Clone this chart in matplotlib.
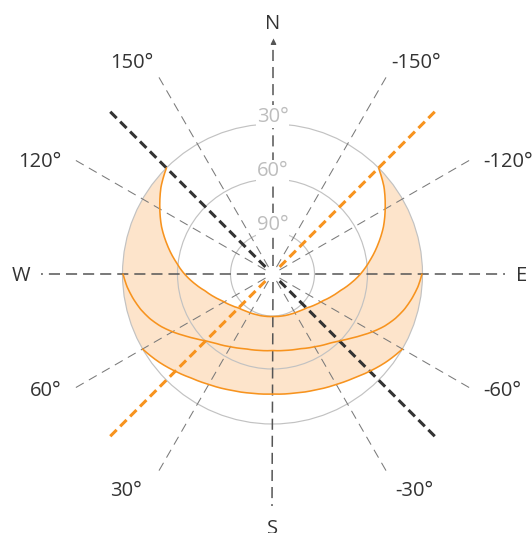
import numpy as np
import matplotlib
matplotlib.use('Agg')
import matplotlib.pyplot as plt
from matplotlib import transforms
from matplotlib.path import Path
from matplotlib.patches import PathPatch

plt.rcParams['font.family'] = ['Open Sans', 'DejaVu Sans']
plt.rcParams['lines.scale_dashes'] = False

# ---------------- data (azimuth: S=0, W=+90, N=180, E=-90; radius in chart units) -------------
summer_az = [135, 128, 121, 113, 106, 98, 90, 83, 76, 69, 62, 54, 45, 35, 24, 12, 0,
             -12, -24, -35, -45, -54, -62, -69, -76, -83, -90, -98, -106, -113, -121, -128, -135]
summer_r = [150, 141.5, 131.5, 120.5, 110, 98.5, 88, 78.5, 69.5, 63, 57, 52.5, 48, 45.5, 44, 43, 42.5,
            43, 44, 45.5, 48, 52.5, 57, 63, 69.5, 78.5, 88, 98.5, 110, 120.5, 131.5, 141.5, 150]

equinox_az = [90, 85, 80, 75, 70, 65, 60, 55, 50, 45, 40, 30, 20, 10, 0,
              -10, -20, -30, -40, -45, -50, -55, -60, -65, -70, -75, -80, -85, -90]
equinox_r = [149.5, 146, 141.5, 136.5, 130.5, 123.5, 115.5, 107.5, 100.5, 94.5, 90, 84, 79.5, 77.5, 76.5,
             77.5, 79.5, 84, 90, 94.5, 100.5, 107.5, 115.5, 123.5, 130.5, 136.5, 141.5, 146, 149.5]

winter_az = [60, 52, 45, 38, 30, 20, 10, 0, -10, -20, -30, -38, -45, -52, -60]
winter_r = [150, 143.5, 137.5, 132, 127.5, 123.5, 121, 120, 121, 123.5, 127.5, 132, 137.5, 143.5, 150]

horizon_r = 150                      # outer ring bounding the shaded band
ring_radius = [150, 95, 42]
ring_labels = ['30°', '60°', '90°']

grid_az = [150, 120, 60, 30, -30, -60, -120, -150]
grid_labels = ['150°', '120°', '60°', '30°', '-30°', '-60°', '-120°', '-150°']

compass_labels = ['N', 'S', 'W', 'E']
compass_az = [180, 0, 90, -90]

summer_line_az = [135, -45]    # dark dashed
winter_line_az = [-135, 45]    # orange dashed

# ---------------- style -------------
ORANGE = '#F7931E'
FILL = '#FDE4CB'
DARK = '#333333'
GRID = '#7a7a7a'
AXIS = '#555555'
RING = '#c2c2c2'
TXT = '#333333'
FS = 14.5
CAP = 14.5  # cap height in px
STEPS = 24

fig = plt.figure(figsize=(5.32, 5.33), dpi=100)
ax = fig.add_axes([13.5 / 532, 0, 518 / 532, 518 / 533], projection='polar')
ax.set_theta_zero_location('S')
ax.set_theta_direction(-1)
ax.set_rlim(0, 259)
ax.set_axis_off()

rad = np.deg2rad


def polar_path(theta_deg, r):
    return Path(np.column_stack([rad(np.asarray(theta_deg, float)), np.asarray(r, float)]),
                _interpolation_steps=STEPS)


# shaded band: summer path, ring arc, winter path (reversed), ring arc
band_t = list(summer_az) + list(winter_az[::-1]) + [135]
band_r = list(summer_r) + list(winter_r[::-1]) + [horizon_r]
ax.add_patch(PathPatch(polar_path(band_t, band_r), fc=FILL, ec='none', lw=0, zorder=1))

# rings
for rr in ring_radius:
    ax.add_patch(PathPatch(polar_path([-180, 0, 180], [rr, rr, rr]), fill=False,
                           ec=RING, lw=0.85, zorder=2))

# thin dashed grid spokes
for a in grid_az:
    ax.plot([rad(a), rad(a)], [8, 232], color=GRID, lw=0.75, ls=(0, (6.5, 4.3)), zorder=2)

# compass axes
for a in compass_az:
    ax.plot([rad(a), rad(a)], [8, 232], color=AXIS, lw=1.1, ls=(0, (8, 4.3)), zorder=2.5)
ax.plot([rad(180)], [233], marker='^', ms=5, color=AXIS, mec='none', zorder=3)

# solstice direction lines
for a in summer_line_az:
    ax.plot([rad(a), rad(a)], [10, 232], color=DARK, lw=2.2, ls=(0, (6.5, 3.6)), zorder=3)
for a in winter_line_az:
    ax.plot([rad(a), rad(a)], [10, 232], color=ORANGE, lw=2.2, ls=(0, (6.5, 3.6)), zorder=3)

# sun paths
for az, rr in [(summer_az, summer_r), (equinox_az, equinox_r), (winter_az, winter_r)]:
    ax.add_patch(PathPatch(polar_path(az, rr), fill=False, ec=ORANGE, lw=1.15,
                           capstyle='round', joinstyle='round', zorder=4))


def off(dy):
    return transforms.offset_copy(ax.transData, fig=fig, x=0, y=dy, units='dots')


# ring labels
for rr, lab in zip(ring_radius, ring_labels):
    ax.text(rad(180), rr + 2.5, lab, ha='center', va='baseline', fontsize=FS,
            color='#bdbdbd', zorder=5,
            bbox=dict(boxstyle='square,pad=0.05', fc='white', ec='none'))

# angle labels (anchor angle / radius tuned to the reference layout)
lab_theta = [150, 118.5, 61.5, 32.2, -30.6, -61.5, -118.5, -150]
lab_r = [238, 240, 240, 245, 241, 240, 240, 238]
for a, th, rr, lab in zip(grid_az, lab_theta, lab_r, grid_labels):
    ha = 'right' if a > 0 else 'left'
    if abs(a) > 135:
        dy = 0
    elif 45 < abs(a) < 135:
        dy = -CAP / 2
    else:
        dy = -CAP
    ax.text(rad(th), rr, lab, ha=ha, va='baseline', fontsize=FS, color=TXT,
            transform=off(dy), zorder=5)

# compass labels
comp_r = [245, 246, 242, 244]
comp_ha = ['center', 'center', 'right', 'left']
comp_dy = [0, -CAP, -CAP / 2, -CAP / 2]
for a, lab, rr, ha, dy in zip(compass_az, compass_labels, comp_r, comp_ha, comp_dy):
    ax.text(rad(a), rr, lab, ha=ha, va='baseline', fontsize=FS, color=TXT,
            transform=off(dy), zorder=5)

fig.savefig('out.png', dpi=100, facecolor='white')
